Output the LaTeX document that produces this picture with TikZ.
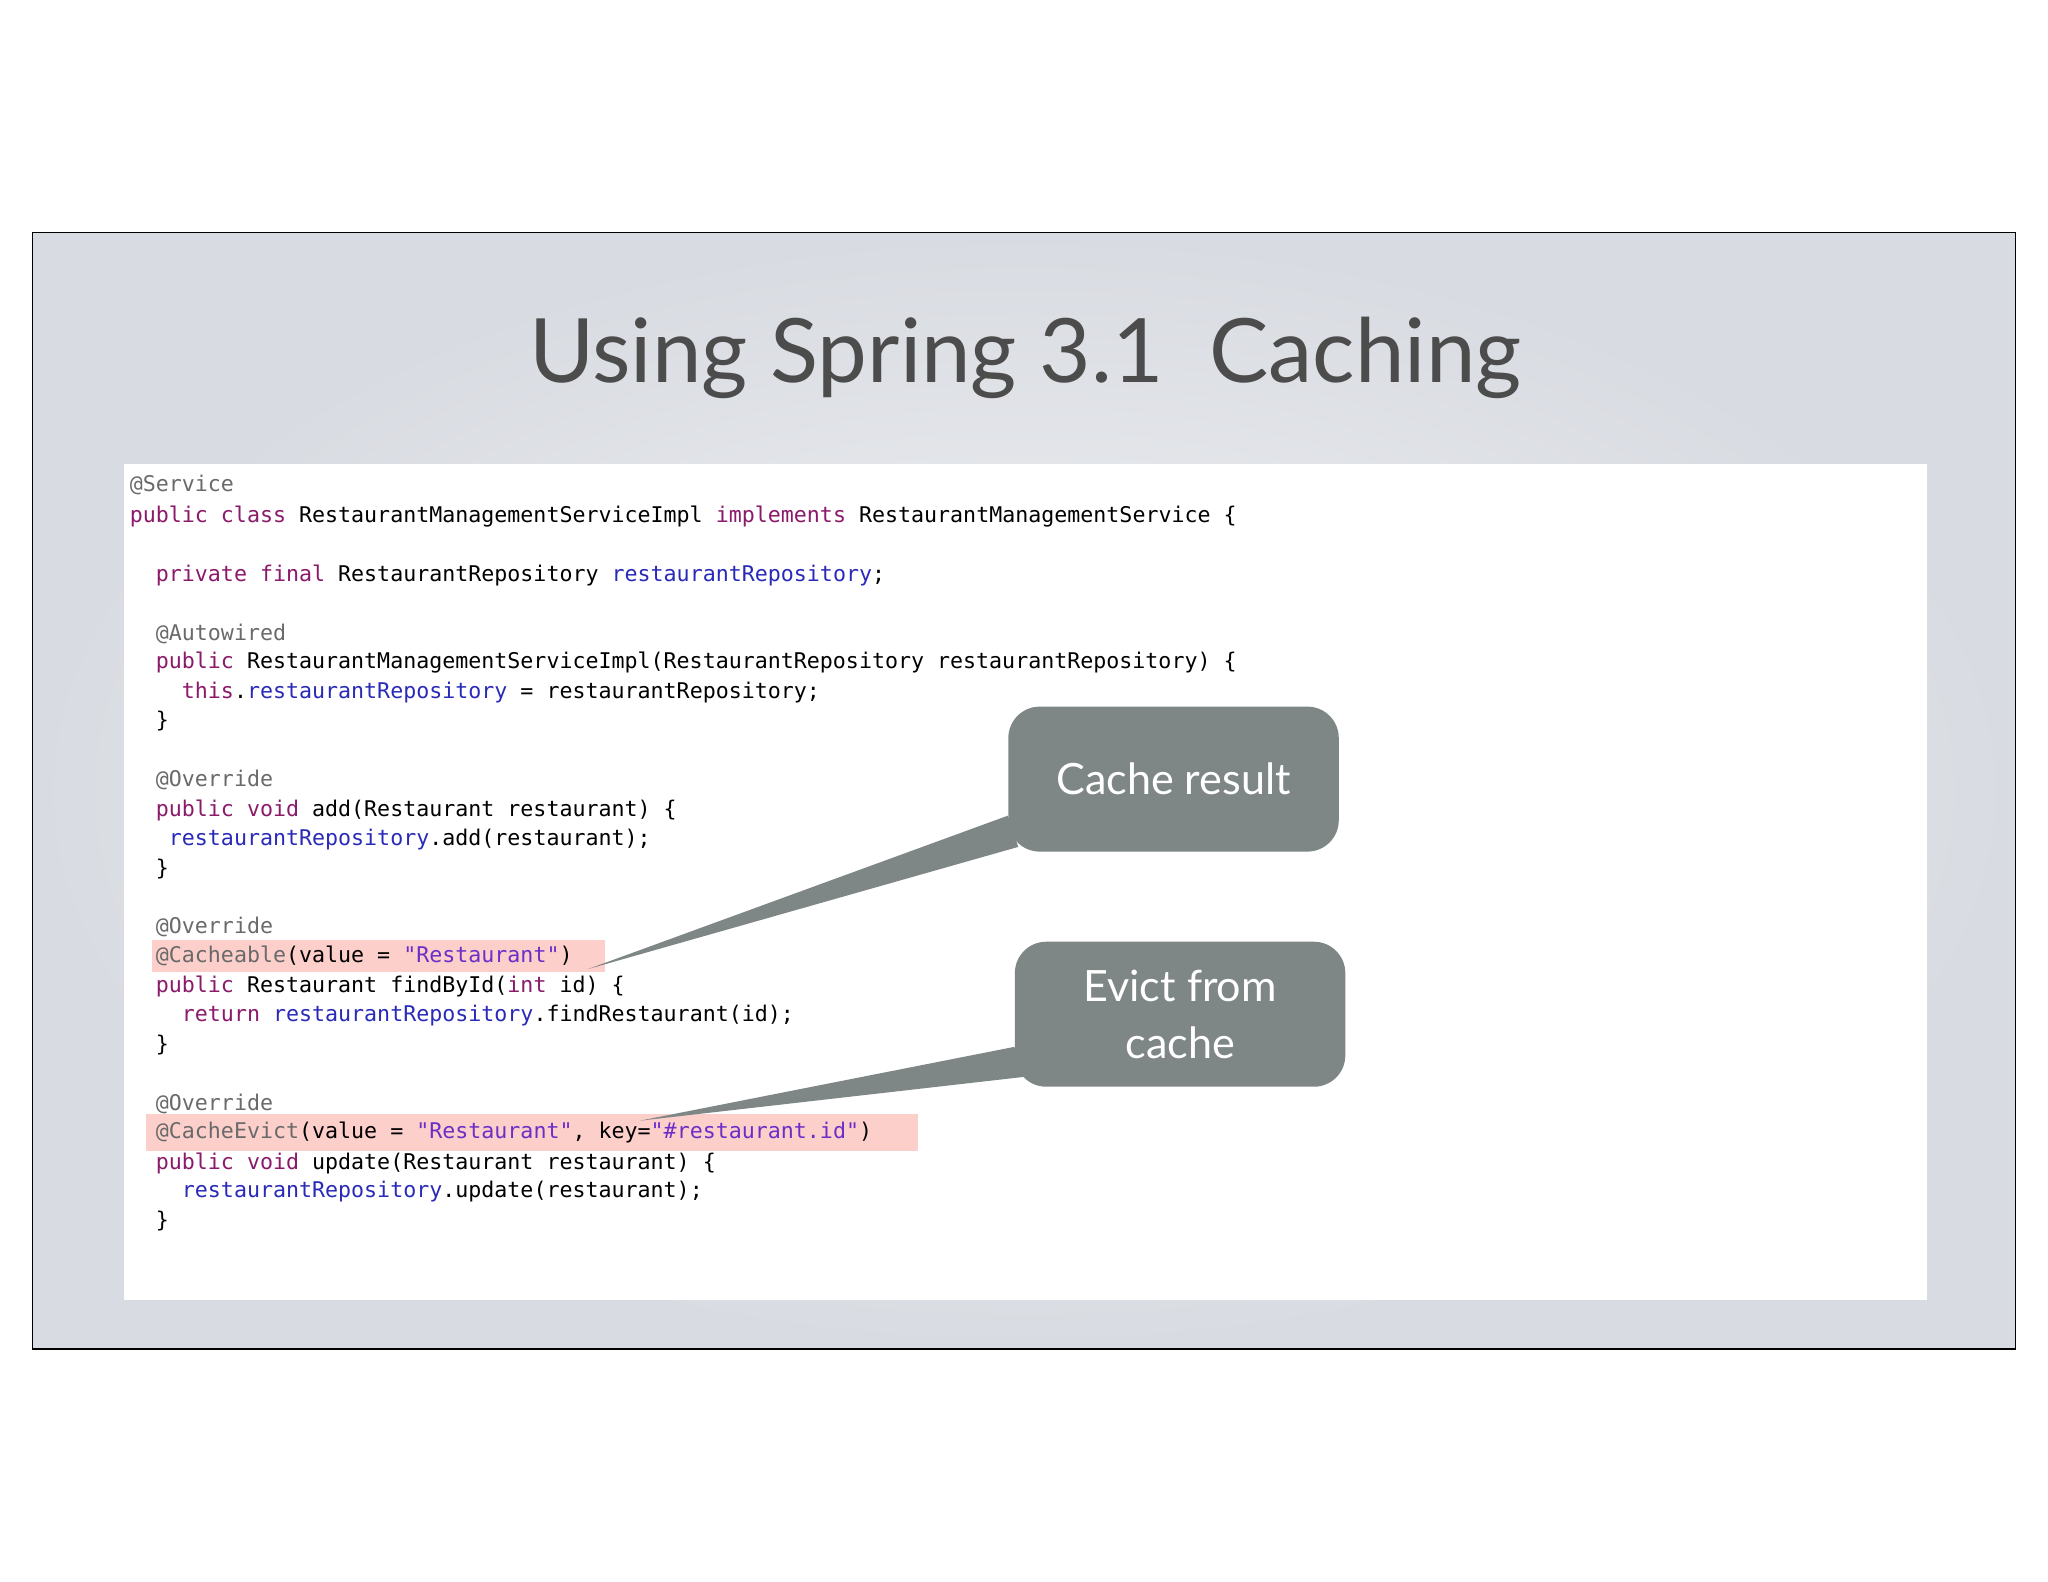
\documentclass[tikz,border=0pt]{standalone}
\usepackage{fontspec}
\setmainfont{Lato}
\setmonofont{DejaVu Sans Mono}
\usetikzlibrary{calc}
\begin{document}
\definecolor{kw}{HTML}{8B1A6B}
\definecolor{fd}{HTML}{2A2AB8}
\definecolor{an}{HTML}{6A6A6A}
\definecolor{st}{HTML}{6B2FC8}
\definecolor{hl}{HTML}{FCCFCB}
\definecolor{callg}{HTML}{7F8786}
\definecolor{bgin}{HTML}{F2F3F5}
\definecolor{bgout}{HTML}{D8DBE1}
\newcommand{\kw}[1]{\textcolor{kw}{#1}}
\newcommand{\fd}[1]{\textcolor{fd}{#1}}
\newcommand{\an}[1]{\textcolor{an}{#1}}
\newcommand{\str}[1]{\textcolor{st}{#1}}
\begin{tikzpicture}[x=0.5pt,y=-0.5pt,
  code/.style={anchor=base west,inner sep=0pt,font=\ttfamily\fontsize{8.28}{10}\selectfont},
  callout/.style={fill=callg,rounded corners=12pt,text=white,align=center,font=\fontsize{16.5}{22}\selectfont,inner sep=0pt}]
\useasboundingbox (0,0) rectangle (1568,1211);
\fill[white] (0,0) rectangle (1568,1211);
\shade[inner color=bgin,outer color=bgout,draw=black,line width=0.6pt] (25,178) rectangle (1543,1033);
\node[font=\fontsize{34}{40}\selectfont,text=black!70] (title) at (785,274) {Using Spring 3.1\ \ Caching};
\fill[white] (95,355) rectangle (1475,995);
\fill[hl] (116,720) rectangle (463,744);
\fill[hl] (112,853) rectangle (703,881);
\node[code] (l1) at (99,376) {\an{@Service}};
\node[code] (l2) at (99,400) {\kw{public class} RestaurantManagementServiceImpl \kw{implements} RestaurantManagementService \{};
\node[code] (l3) at (99,445) {\ \ \kw{private final} RestaurantRepository \fd{restaurantRepository};};
\node[code] (l4) at (99,490) {\ \ \an{@Autowired}};
\node[code] (l5) at (99,512) {\ \ \kw{public} RestaurantManagementServiceImpl(RestaurantRepository restaurantRepository) \{};
\node[code] (l6) at (99,535) {\ \ \ \ \kw{this}.\fd{restaurantRepository} = restaurantRepository;};
\node[code] (l7) at (99,557) {\ \ \}};
\node[code] (l8) at (99,602) {\ \ \an{@Override}};
\node[code] (l9) at (99,625) {\ \ \kw{public void} add(Restaurant restaurant) \{};
\node[code] (l10) at (99,647) {\ \ \ \fd{restaurantRepository}.add(restaurant);};
\node[code] (l11) at (99,670) {\ \ \}};
\node[code] (l12) at (99,715) {\ \ \an{@Override}};
\node[code] (l13) at (99,737) {\ \ \an{@Cacheable}(value = \str{"Restaurant"})};
\node[code] (l14) at (99,760) {\ \ \kw{public} Restaurant findById(\kw{int} id) \{};
\node[code] (l15) at (99,782) {\ \ \ \ \kw{return} \fd{restaurantRepository}.findRestaurant(id);};
\node[code] (l16) at (99,805) {\ \ \}};
\node[code] (l17) at (99,850) {\ \ \an{@Override}};
\node[code] (l18) at (99,872) {\ \ \an{@CacheEvict}(value = \str{"Restaurant"}, key=\str{"\#restaurant.id"})};
\node[code] (l19) at (99,895) {\ \ \kw{public void} update(Restaurant restaurant) \{};
\node[code] (l20) at (99,917) {\ \ \ \ \fd{restaurantRepository}.update(restaurant);};
\node[code] (l21) at (99,940) {\ \ \}};
\node[callout,minimum width=126.5pt,minimum height=55.5pt] (c1) at (898.5,596.5) {Cache result};
\node[callout,minimum width=126.5pt,minimum height=55.5pt] (c2) at (903.5,776.5) {Evict from\\cache};
\coordinate (t1) at (450,742);
\coordinate (t2) at (490,858);
\fill[callg] (t1) -- ($(c1.west)+(0,28)$) -- ($(c1.south west)+(8,-4)$) -- cycle;
\fill[callg] (t2) -- ($(c2.west)+(0,25)$) -- ($(c2.south west)+(8,-8)$) -- cycle;
\end{tikzpicture}
\end{document}
